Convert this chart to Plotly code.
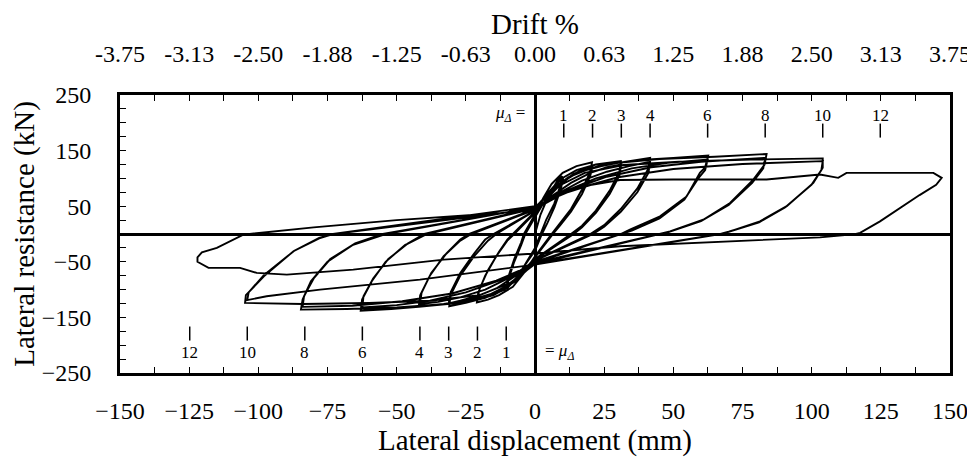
import plotly.graph_objects as go

# ---------------- data ----------------
# hysteresis path, grouped by ductility level (displacement mm, force kN)
disp_mu1 = [0, 2, 5, 8, 9.8, 9, 7, 4, 2, 0, -3, -6, -9, -10.3, -9.5, -7.5, -5, -3.5,
            0, 3, 6, 9, 10.2, 9.3, 7, 4.5, 2.5, 0, -4, -7, -10, -10.4, -9.5, -7.5, -5, -4]
force_mu1 = [0, 35, 70, 95, 104, 85, 55, 25, 0, -25, -50, -75, -92, -99, -80, -50, -20, 0,
             30, 55, 80, 96, 100, 80, 48, 20, 0, -30, -58, -80, -95, -96, -75, -45, -15, 0]

disp_mu2 = [0, 3, 6, 10, 15, 20.6, 20, 17, 13, 9, 6, 0, -4, -8, -13, -17, -21, -20.5, -18, -14, -10, -7.5,
            0, 4, 9, 14, 18, 20.8, 20, 17, 13, 9, 6.5, 0, -5, -10, -15, -20.8, -20, -17, -13, -10, -8]
force_mu2 = [35, 65, 90, 110, 122, 129, 112, 80, 45, 18, 0, -40, -70, -95, -110, -118, -123, -105, -75, -40, -12, 0,
             38, 62, 88, 108, 118, 122, 105, 72, 40, 15, 0, -42, -72, -96, -110, -118, -98, -65, -32, -10, 0]

disp_mu3 = [0, 4, 9, 15, 22, 31, 30.5, 27, 22, 17, 13, 0, -5, -11, -18, -25, -31, -30.5, -27, -22, -17, -14,
            0, 6, 13, 20, 26, 31.2, 30.5, 27, 22, 17, 14, 0, -7, -14, -21, -27, -31.2, -30.5, -27, -22, -18, -15]
force_mu3 = [40, 70, 98, 115, 125, 131, 112, 78, 42, 15, 0, -45, -75, -100, -115, -124, -130, -110, -75, -40, -12, 0,
             42, 68, 92, 110, 120, 125, 105, 72, 38, 12, 0, -46, -75, -98, -112, -120, -125, -105, -70, -35, -10, 0]

disp_mu4 = [0, 5, 12, 20, 30, 41.6, 41, 37, 31, 25, 20, 0, -6, -14, -23, -33, -42, -41.5, -38, -33, -27, -23,
            0, 8, 17, 26, 34, 41.6, 41, 37, 31, 25, 21, 0, -9, -18, -27, -35, -41.6, -41, -37.5, -32, -27, -24]
force_mu4 = [42, 75, 102, 118, 128, 137, 118, 82, 45, 16, 0, -47, -80, -105, -118, -126, -130, -110, -75, -40, -12, 0,
             44, 72, 96, 112, 122, 130, 110, 75, 40, 13, 0, -48, -78, -100, -114, -122, -126, -106, -70, -35, -10, 0]

disp_mu6 = [0, 6, 14, 24, 38, 50, 62.6, 61.5, 59.6, 54.8, 45.2, 34.3, 31, 0, -7, -16, -28, -42, -52, -63,
            -62.5, -59, -54, -47, -39,
            0, 10, 22, 35, 48, 62.4, 61.5, 59, 54, 45, 35, 31, 0, -12, -25, -38, -50, -62.4,
            -62, -58.5, -53, -46, -40]
force_mu6 = [45, 80, 108, 124, 133, 137, 141, 120, 110, 67.6, 31.7, 7.7, 0, -50, -85, -110, -124, -131, -135, -138,
             -118, -85, -50, -20, 0,
             46, 75, 100, 118, 128, 134, 115, 100, 62, 28, 6, 0, -52, -82, -105, -120, -128, -132,
             -112, -80, -45, -17, 0]

disp_mu8 = [0, 7, 16, 28, 45, 65, 83.7, 83, 78.9, 70.5, 60.8, 48.8, 45, 0, -8, -18, -32, -50, -68, -84.6,
            -84, -81, -75, -66, -54,
            0, 12, 26, 42, 60, 83.2, 82.5, 78.5, 70, 60, 48, 45, 0, -14, -30, -48, -66, -84,
            -83.5, -80, -74, -65, -55]
force_mu8 = [47, 85, 112, 127, 135, 139, 144, 125, 97.7, 55.7, 25.7, 4.7, 0, -52, -88, -113, -126, -132, -135, -136,
             -118, -85, -50, -20, 0,
             48, 78, 103, 120, 130, 137, 118, 92, 52, 23, 3, 0, -54, -84, -107, -121, -129, -131,
             -112, -80, -45, -17, 0]

disp_mu10 = [0, 8, 18, 32, 52, 78, 104, 104, 100.6, 91, 81.3, 70.5, 67, 0, -9, -20, -38, -60, -84, -104.8,
             -104.5, -98, -87.3, -78, -73,
             0, 14, 30, 50, 75, 104, 103.5, 100, 90.5, 81, 70, 67, 0, -17.5, -41.6, -77.7, -97, -104,
             -103.5, -98, -87, -78, -73]
force_mu10 = [48, 85, 110, 124, 130, 134, 136, 119, 92, 50, 22.7, 4.7, 0, -54, -88, -110, -120, -124, -126, -124,
              -110, -76, -31, -8, 0,
              50, 80, 102, 117, 126, 131, 115, 89, 48, 21, 4, 0, -55, -66, -82, -100, -112, -119,
              -105, -74, -30, -7, 0]

disp_mu12 = [0, 10, 20, 30.7, 50, 70, 83.7, 103, 109.6, 112.6, 130, 144, 147, 145, 139, 133, 124.7, 117.5, 116,
             103, 85, 60, 30.7, 0, -33, -65.7, -89.7, -100.6, -106.6, -118, -122, -122, -120.4, -115, -109,
             -105.4, -80, -50, -20, 0]
force_mu12 = [45, 72, 88, 97, 98, 98, 98, 107, 101, 110, 110, 110, 101, 88.6, 70, 50, 22.7, 2, 0,
              -6, -10, -16, -22, -35, -46, -64, -73, -70, -61, -61, -50, -42, -33, -25, -10,
              -1, 12, 25, 35, 42]

# axis ticks
disp_ticks = [-150, -125, -100, -75, -50, -25, 0, 25, 50, 75, 100, 125, 150]
force_ticks = [-250, -150, -50, 50, 150, 250]
drift_ticks = [-3.75, -3.125, -2.5, -1.875, -1.25, -0.625, 0, 0.625, 1.25, 1.875, 2.5, 3.125, 3.75]
drift_labels = ["-3.75", "-3.13", "-2.50", "-1.88", "-1.25", "-0.63", "0.00",
                "0.63", "1.25", "1.88", "2.50", "3.13", "3.75"]

# ductility markers
ductility = [1, 2, 3, 4, 6, 8, 10, 12]
yield_disp = 10.4  # mm

# ---------------- figure ----------------
disp = disp_mu1 + disp_mu2 + disp_mu3 + disp_mu4 + disp_mu6 + disp_mu8 + disp_mu10 + disp_mu12
force = force_mu1 + force_mu2 + force_mu3 + force_mu4 + force_mu6 + force_mu8 + force_mu10 + force_mu12

FONT = "Liberation Serif"
fig = go.Figure()
fig.add_trace(go.Scatter(x=disp, y=force, mode="lines",
                         line=dict(color="black", width=1.9), hoverinfo="skip"))

pos_x = [m * yield_disp for m in ductility]
neg_x = [-m * yield_disp for m in ductility]
tick_marker = dict(symbol="line-ns-open", size=10, color="black",
                   line=dict(color="black", width=1.5))
fig.add_trace(go.Scatter(x=pos_x, y=[186] * len(pos_x), mode="markers",
                         marker=tick_marker, hoverinfo="skip"))
fig.add_trace(go.Scatter(x=neg_x, y=[-179] * len(neg_x), mode="markers",
                         marker=tick_marker, hoverinfo="skip"))
# dummy trace to activate the drift axis
fig.add_trace(go.Scatter(x=[0], y=[0], xaxis="x2", mode="markers",
                         marker=dict(opacity=0), hoverinfo="skip"))

for m, xp, xn in zip(ductility, pos_x, neg_x):
    fig.add_annotation(x=xp, y=214, text=str(m), showarrow=False,
                       font=dict(family=FONT, size=17, color="black"))
    fig.add_annotation(x=xn, y=-213, text=str(m), showarrow=False,
                       font=dict(family=FONT, size=17, color="black"))
fig.add_annotation(x=-3, y=216, text="<i>μ<sub>Δ</sub></i> =", showarrow=False,
                   xanchor="right", font=dict(family=FONT, size=17, color="black"))
fig.add_annotation(x=3, y=-213, text="= <i>μ<sub>Δ</sub></i>", showarrow=False,
                   xanchor="left", font=dict(family=FONT, size=17, color="black"))

axis_common = dict(showgrid=False, ticks="inside", ticklen=6, tickwidth=1, tickcolor="black",
                   automargin=False,
                   tickfont=dict(family=FONT, size=24, color="black"))

# the page body adds an 8 px offset, so the figure is sized/margined to compensate
fig.update_layout(
    width=967, height=453,
    margin=dict(l=112, r=25, t=87, b=88),
    plot_bgcolor="white", paper_bgcolor="white",
    showlegend=False,
    font=dict(family=FONT, color="black"),
    xaxis=dict(range=[-150, 150], tickvals=disp_ticks, ticklabelstandoff=14,
               minor=dict(dtick=12.5, tick0=0, ticks="inside", ticklen=6, tickcolor="black", showgrid=False),
               showline=True, linewidth=3, linecolor="black", mirror=True,
               zeroline=True, zerolinewidth=3, zerolinecolor="black",
               title=dict(text="Lateral displacement (mm)", font=dict(family=FONT, size=29, color="black"),
                          standoff=2),
               **axis_common),
    xaxis2=dict(range=[-3.75, 3.75], overlaying="x", side="top", anchor="y",
                tickvals=drift_ticks, ticktext=drift_labels, ticklabelstandoff=27,
                minor=dict(dtick=0.3125, tick0=0, ticks="inside", ticklen=6, tickcolor="black", showgrid=False),
                showline=False, zeroline=False,
                title=dict(text="Drift %", font=dict(family=FONT, size=29, color="black"), standoff=0),
                **axis_common),
    yaxis=dict(range=[-250, 250], tickvals=force_ticks, ticklabelstandoff=21,
               minor=dict(dtick=25, tick0=0, ticks="inside", ticklen=6, tickcolor="black", showgrid=False),
               showline=True, linewidth=3, linecolor="black", mirror=True,
               zeroline=True, zerolinewidth=3, zerolinecolor="black",
               title=dict(text="Lateral resistance (kN)", font=dict(family=FONT, size=29, color="black"),
                          standoff=4),
               **axis_common),
)

fig.write_html("out.html")
